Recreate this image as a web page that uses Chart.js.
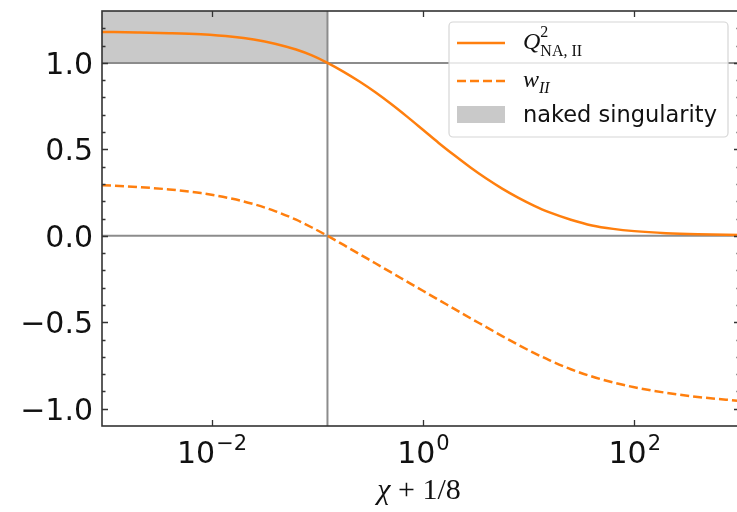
<!DOCTYPE html>
<html>
<head>
<meta charset="utf-8">
<script src="https://cdn.jsdelivr.net/npm/chart.js@4.4.1/dist/chart.umd.min.js"></script>
<style>
html, body { margin: 0; padding: 0; background: #fff; overflow: hidden; }
#wrap { width: 742px; height: 512px; }
</style>
</head>
<body>
<div id="wrap"><canvas id="plot" width="742" height="512"></canvas></div>
<script>
// chi + 1/8 sample points (log axis)
const chiPlus = [0.00092, 0.002, 0.00398, 0.00794, 0.0158, 0.0251, 0.0398, 0.0631, 0.0891, 0.125,
  0.178, 0.251, 0.355, 0.501, 0.708, 1, 1.41, 2.0, 2.82, 3.98, 5.62, 7.94, 11.2, 15.8, 25.1, 39.8, 63.1, 100, 200, 398, 1000];
// Q^2_{NA,II}
const qNA = [1.179, 1.176, 1.172, 1.165, 1.151, 1.135, 1.111, 1.077, 1.043, 1.0,
  0.948, 0.892, 0.830, 0.762, 0.689, 0.613, 0.537, 0.464, 0.395, 0.331, 0.273, 0.221, 0.175, 0.135, 0.093, 0.06, 0.04, 0.027, 0.015, 0.0085, 0.004];
// w_II
const wII = [0.293, 0.282, 0.268, 0.247, 0.214, 0.183, 0.143, 0.093, 0.048, 0.0,
  -0.053, -0.106, -0.159, -0.212, -0.265, -0.318, -0.371, -0.424, -0.477, -0.528, -0.58, -0.63, -0.677, -0.72, -0.772, -0.814, -0.848, -0.876, -0.908, -0.932, -0.955];

const xRange = [0.00092, 1000];
const yRange = [-1.1, 1.3];
const chiZero = 0.125;          // chi = 0
const refLevels = [1.0, 0.0];

const xTicks = [1e-2, 1, 1e2];
const xTickExp = ['\u22122', '0', '2'];
const yTicks = [-1.0, -0.5, 0.0, 0.5, 1.0];
const yTickLabels = ['\u22121.0', '\u22120.5', '0.0', '0.5', '1.0'];

const orange = '#ff7f0e';
const refGray = '#8c8c8c';
const shade = '#c9c9c9';

function pts(ys) {
  return chiPlus.map((x, i) => ({ x: x, y: ys[i] }));
}

const axesPlugin = {
  id: 'axes',
  afterDraw(chart) {
    const ctx = chart.ctx;
    const a = chart.chartArea;
    const xs = chart.scales.x, ys = chart.scales.y;
    ctx.save();

    // inward ticks on all four sides
    ctx.strokeStyle = '#333';
    ctx.lineWidth = 1.3;
    ctx.beginPath();
    for (let k = -10; k <= 12; k++) {
      const py = Math.round(ys.getPixelForValue(k / 10)) + 0.5;
      const len = (k % 5 === 0) ? 6 : 3.5;
      ctx.moveTo(a.left, py); ctx.lineTo(a.left + len, py);
      ctx.moveTo(a.right, py); ctx.lineTo(a.right - len, py);
    }
    xTicks.forEach(v => {
      const px = Math.round(xs.getPixelForValue(v)) + 0.5;
      ctx.moveTo(px, a.bottom); ctx.lineTo(px, a.bottom - 6);
      ctx.moveTo(px, a.top); ctx.lineTo(px, a.top + 6);
    });
    ctx.stroke();

    // frame
    ctx.lineWidth = 1.6;
    ctx.strokeRect(a.left, a.top, a.right - a.left, a.bottom - a.top);

    // y tick labels
    ctx.fillStyle = '#111';
    ctx.font = '30px "DejaVu Sans"';
    ctx.textAlign = 'right';
    ctx.textBaseline = 'alphabetic';
    yTicks.forEach((v, i) => {
      ctx.fillText(yTickLabels[i], a.left - 9, ys.getPixelForValue(v) + 11);
    });

    // x tick labels: 10 with superscript exponent
    ctx.textAlign = 'left';
    xTicks.forEach((v, i) => {
      const px = xs.getPixelForValue(v);
      ctx.font = '30px "DejaVu Sans"';
      const wBase = ctx.measureText('10').width;
      ctx.font = '21px "DejaVu Sans"';
      const wExp = ctx.measureText(xTickExp[i]).width;
      const x0 = px - (wBase + wExp) / 2;
      ctx.font = '30px "DejaVu Sans"';
      ctx.fillText('10', x0, 463);
      ctx.font = '21px "DejaVu Sans"';
      ctx.fillText(xTickExp[i], x0 + wBase + 1, 450);
    });

    // x axis title
    const parts = [
      { t: '\u03c7', f: 'italic 30px "Liberation Serif"' },
      { t: ' + ', f: '30px "Liberation Serif"' },
      { t: '1/8', f: '30px "Liberation Serif"' }
    ];
    let total = 0;
    parts.forEach(p => { ctx.font = p.f; p.w = ctx.measureText(p.t).width; total += p.w; });
    let tx = (a.left + a.right) / 2 - total / 2 - 2;
    parts.forEach(p => { ctx.font = p.f; ctx.fillText(p.t, tx, 499); tx += p.w; });

    // legend
    const lx = 449, ly = 22, lw = 279, lh = 115;
    ctx.beginPath();
    ctx.roundRect(lx, ly, lw, lh, 4);
    ctx.fillStyle = 'rgba(255,255,255,0.82)';
    ctx.fill();
    ctx.strokeStyle = '#d6d6d6';
    ctx.lineWidth = 1.2;
    ctx.stroke();

    ctx.strokeStyle = orange;
    ctx.lineWidth = 2.5;
    ctx.beginPath(); ctx.moveTo(457, 43); ctx.lineTo(505, 43); ctx.stroke();
    ctx.setLineDash([9, 4]);
    ctx.beginPath(); ctx.moveTo(457, 81); ctx.lineTo(505, 81); ctx.stroke();
    ctx.setLineDash([]);
    ctx.fillStyle = shade;
    ctx.fillRect(457, 106, 48, 17);

    ctx.fillStyle = '#111';
    ctx.font = 'italic 24px "Liberation Serif"';
    ctx.fillText('Q', 523, 49);
    let qw = ctx.measureText('Q').width;
    ctx.font = '16px "Liberation Serif"';
    ctx.fillText('2', 523 + qw, 37);
    ctx.fillText('NA, II', 523 + qw, 56);

    ctx.font = 'italic 24px "Liberation Serif"';
    ctx.fillText('w', 523, 87);
    let ww = ctx.measureText('w').width;
    ctx.font = 'italic 16px "Liberation Serif"';
    ctx.fillText('II', 523 + ww, 93);

    ctx.font = '22.5px "DejaVu Sans"';
    ctx.fillText('naked singularity', 523, 122);

    ctx.restore();
  }
};

new Chart(document.getElementById('plot'), {
  type: 'line',
  data: {
    datasets: [
      {
        label: 'naked singularity',
        data: [{ x: xRange[0], y: yRange[1] }, { x: chiZero, y: yRange[1] }],
        fill: { value: 1.0 },
        backgroundColor: shade,
        borderWidth: 0,
        pointRadius: 0,
        order: 5
      },
      {
        label: 'ref h1',
        data: [{ x: xRange[0], y: refLevels[0] }, { x: xRange[1], y: refLevels[0] }],
        borderColor: refGray, borderWidth: 2, pointRadius: 0, order: 4
      },
      {
        label: 'ref h0',
        data: [{ x: xRange[0], y: refLevels[1] }, { x: xRange[1], y: refLevels[1] }],
        borderColor: refGray, borderWidth: 2, pointRadius: 0, order: 4
      },
      {
        label: 'ref v',
        data: [{ x: chiZero, y: yRange[0] }, { x: chiZero, y: yRange[1] }],
        borderColor: refGray, borderWidth: 2, pointRadius: 0, order: 4
      },
      {
        label: 'w_II',
        data: pts(wII),
        borderColor: orange,
        borderWidth: 2.5,
        borderDash: [9, 4],
        pointRadius: 0,
        cubicInterpolationMode: 'monotone',
        order: 2
      },
      {
        label: 'Q2_NA,II',
        data: pts(qNA),
        borderColor: orange,
        borderWidth: 2.5,
        pointRadius: 0,
        cubicInterpolationMode: 'monotone',
        order: 1
      }
    ]
  },
  options: {
    responsive: false,
    devicePixelRatio: 1,
    animation: false,
    events: [],
    layout: { padding: { left: 102, top: 11, right: 2, bottom: 86 } },
    scales: {
      x: { type: 'logarithmic', display: false, min: xRange[0], max: xRange[1] },
      y: { type: 'linear', display: false, min: yRange[0], max: yRange[1] }
    },
    plugins: {
      legend: { display: false },
      tooltip: { enabled: false }
    }
  },
  plugins: [axesPlugin]
});
</script>
</body>
</html>
